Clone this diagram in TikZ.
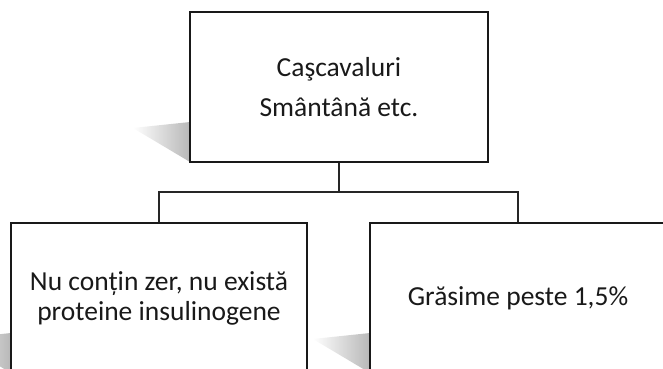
\documentclass[tikz,border=0pt]{standalone}
\usepackage{fontspec}
\setmainfont{Carlito}
\begin{document}
\begin{tikzpicture}[x=1pt,y=-1pt,
  box/.style={draw=black!90,line width=1.8pt,fill=white,rectangle,
    minimum width=296pt,minimum height=150pt,inner sep=0pt,align=center,
    text=black!90},
  conn/.style={draw=black!85,line width=1.1pt},
  shadowfill/.style={left color=white,right color=black!28}]
\useasboundingbox (0,0) rectangle (663,368);
\clip (0,0) rectangle (663,368);
\fill[white] (0,0) rectangle (663,368);
% shadows
\shade[shadowfill] (133,128) -- (190,122) -- (190,162) -- cycle;
\shade[shadowfill] (313,339) -- (370,333) -- (370,373) -- cycle;
\shade[shadowfill] (-46,339) -- (11,333) -- (11,373) -- cycle;
% boxes
\node[box,minimum width=298pt,font=\fontsize{27.5}{40}\selectfont] (top) at (339,87)
  {Caşcavaluri\\Smântână etc.};
\node[box,font=\fontsize{27.5}{30}\selectfont] (left) at (159,298)
  {Nu conțin zer, nu există\\proteine insulinogene};
\node[box,font=\fontsize{27.5}{30}\selectfont] (right) at (518,298)
  {Grăsime peste 1,5\%};
% connectors
\coordinate (j) at (339,192);
\draw[conn] (top.south) -- (j);
\draw[conn] (left.north) |- (j) -| (right.north);
\end{tikzpicture}
\end{document}
